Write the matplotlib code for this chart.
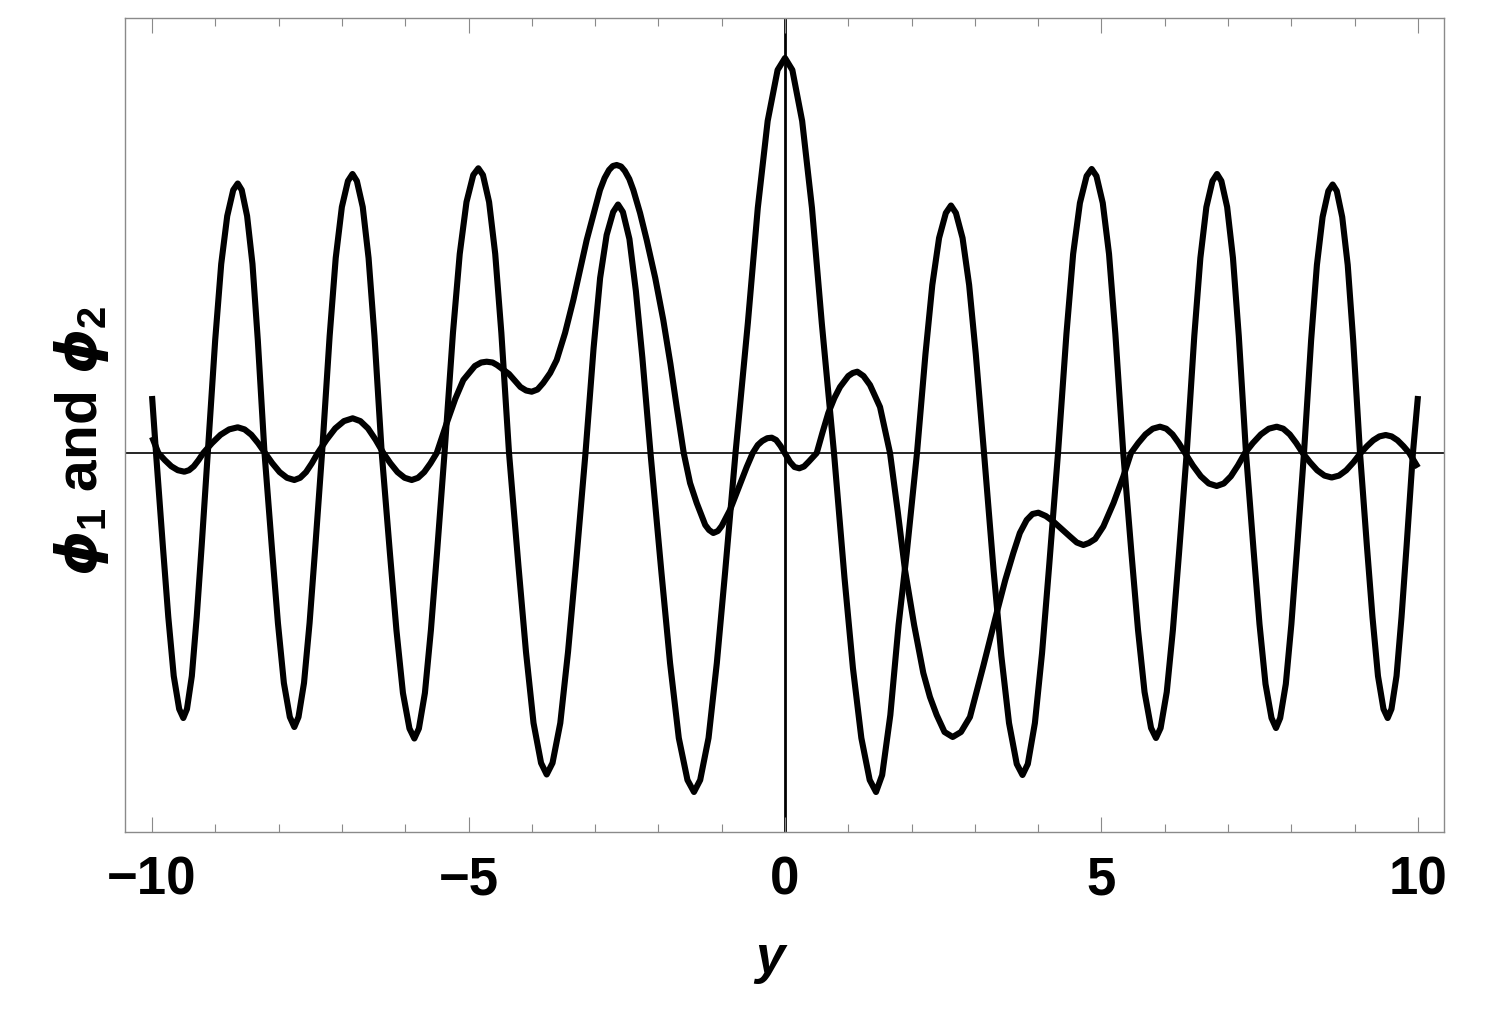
import matplotlib
matplotlib.use("Agg")
import matplotlib.pyplot as plt

# phi_1: the large oscillation, points
phi1_y = [-10.0, -9.937,
          -9.829, -9.743, -9.657, -9.571, -9.506, -9.448, -9.371, -9.294, -9.216, -9.120,
          -9.002, -8.907, -8.812, -8.717, -8.646, -8.583, -8.498, -8.413, -8.329, -8.223,
          -8.105, -8.011, -7.917, -7.823, -7.752, -7.686, -7.599, -7.511, -7.423, -7.314,
          -7.194, -7.098, -7.001, -6.905, -6.833, -6.764, -6.671, -6.579, -6.486, -6.371,
          -6.242, -6.139, -6.036, -5.933, -5.856, -5.784, -5.689, -5.594, -5.498, -5.379,
          -5.246, -5.139, -5.032, -4.925, -4.845, -4.772, -4.675, -4.578, -4.481, -4.360,
          -4.211, -4.092, -3.973, -3.854, -3.765, -3.673, -3.550, -3.428, -3.305, -3.152,
          -3.024, -2.921, -2.818, -2.715, -2.638, -2.561, -2.458, -2.356, -2.253, -2.125,
          -1.953, -1.816, -1.678, -1.541, -1.438, -1.340, -1.208, -1.077, -0.946, -0.782,
          -0.587, -0.430, -0.274, -0.117, 0.0, 0.116, 0.271, 0.426, 0.581, 0.774,
          0.940, 1.073, 1.206, 1.338, 1.438, 1.535, 1.664, 1.794, 1.923, 2.085,
          2.219, 2.327, 2.434, 2.541, 2.622, 2.700, 2.805, 2.909, 3.014, 3.144,
          3.296, 3.418, 3.539, 3.661, 3.752, 3.836, 3.948, 4.061, 4.173, 4.313,
          4.446, 4.552, 4.659, 4.765, 4.845, 4.920, 5.020, 5.119, 5.219, 5.344,
          5.473, 5.577, 5.680, 5.783, 5.861, 5.934, 6.031, 6.128, 6.225, 6.346,
          6.466, 6.562, 6.657, 6.753, 6.825, 6.894, 6.985, 7.077, 7.169, 7.283,
          7.401, 7.496, 7.591, 7.686, 7.757, 7.823, 7.912, 8.000, 8.089, 8.199,
          8.312, 8.403, 8.493, 8.584, 8.652, 8.717, 8.803, 8.890, 8.976, 9.084,
          9.193, 9.281, 9.368, 9.455, 9.521, 9.581, 9.661, 9.740, 9.820, 9.920, 10.0]
phi1 = [0.57, 0.0,
        -0.93, -1.64, -2.23, -2.56, -2.65, -2.56, -2.23, -1.64, -0.93, 0.0,
        1.13, 1.89, 2.37, 2.63, 2.695, 2.63, 2.37, 1.89, 1.13, 0.0,
        -0.96, -1.70, -2.30, -2.64, -2.74, -2.64, -2.30, -1.70, -0.96, 0.0,
        1.17, 1.95, 2.46, 2.72, 2.79, 2.72, 2.46, 1.95, 1.17, 0.0,
        -1.00, -1.77, -2.40, -2.755, -2.855, -2.755, -2.40, -1.77, -1.00, 0.0,
        1.20, 1.99, 2.51, 2.78, 2.847, 2.78, 2.51, 1.99, 1.20, 0.0,
        -1.13, -1.99, -2.70, -3.10, -3.215, -3.10, -2.70, -1.99, -1.13, 0.0,
        1.05, 1.75, 2.18, 2.41, 2.485, 2.41, 2.14, 1.62, 0.95, 0.0,
        -1.19, -2.10, -2.85, -3.27, -3.39, -3.27, -2.85, -2.10, -1.19, 0.0,
        1.30, 2.45, 3.32, 3.83, 3.95, 3.83, 3.32, 2.45, 1.30, 0.0,
        -1.25, -2.15, -2.85, -3.27, -3.39, -3.22, -2.62, -1.72, -1.00, 0.0,
        0.99, 1.68, 2.15, 2.40, 2.475, 2.40, 2.15, 1.68, 0.99, 0.0,
        -1.18, -2.03, -2.70, -3.11, -3.22, -3.11, -2.70, -2.00, -1.13, 0.0,
        1.19, 1.99, 2.50, 2.77, 2.84, 2.77, 2.50, 1.99, 1.19, 0.0,
        -1.00, -1.77, -2.39, -2.75, -2.85, -2.75, -2.39, -1.77, -1.00, 0.0,
        1.17, 1.95, 2.46, 2.72, 2.79, 2.72, 2.46, 1.95, 1.17, 0.0,
        -0.96, -1.71, -2.31, -2.65, -2.75, -2.65, -2.31, -1.71, -0.96, 0.0,
        1.13, 1.88, 2.36, 2.62, 2.685, 2.62, 2.36, 1.88, 1.13, 0.0,
        -0.93, -1.64, -2.23, -2.56, -2.65, -2.56, -2.23, -1.64, -0.93, 0.0, 0.57]

# phi_2: the smaller curve
phi2_y = [-10.0, -9.900,
          -9.798, -9.695, -9.593, -9.490, -9.415, -9.340, -9.265, -9.190,
          -9.054, -8.918, -8.782, -8.646, -8.538, -8.431, -8.323, -8.215,
          -8.099, -7.984, -7.868, -7.752, -7.660, -7.567, -7.475, -7.382,
          -7.244, -7.106, -6.968, -6.830, -6.709, -6.588, -6.467, -6.346,
          -6.234, -6.122, -6.009, -5.897, -5.798, -5.700, -5.601, -5.502,
          -5.344, -5.21, -5.082, -4.90, -4.80, -4.713, -4.62, -4.55, -4.36, -4.18,
          -4.09, -4.002, -3.91, -3.82, -3.71, -3.607, -3.475, -3.344, -3.133, -2.923,
          -2.85, -2.78, -2.72, -2.659, -2.59, -2.53, -2.46, -2.396, -2.29, -2.185,
          -2.05, -1.923, -1.81, -1.711, -1.60, -1.50, -1.395, -1.26, -1.20, -1.133,
          -1.06, -1.0, -0.869, -0.74, -0.605, -0.510, -0.43, -0.36, -0.28, -0.210,
          -0.14, -0.07, 0.0, 0.08, 0.15, 0.226, 0.30, 0.37, 0.501,
          0.59, 0.684, 0.78, 0.869, 1.0, 1.07, 1.142, 1.24, 1.343, 1.501,
          1.659, 1.78, 1.896, 2.04, 2.185, 2.29, 2.396, 2.52, 2.649, 2.78,
          2.922, 3.133, 3.24, 3.344, 3.48, 3.607, 3.71, 3.818, 3.91, 4.002,
          4.12, 4.239, 4.37, 4.502, 4.61, 4.713, 4.80, 4.90, 5.029, 5.19,
          5.345, 5.466,
          5.581, 5.695, 5.810, 5.924, 6.023, 6.122, 6.220, 6.319,
          6.444, 6.570, 6.695, 6.820, 6.932, 7.044, 7.155, 7.267,
          7.392, 7.518, 7.643, 7.768, 7.871, 7.974, 8.076, 8.179,
          8.294, 8.408, 8.523, 8.637, 8.752, 8.866, 8.981, 9.095,
          9.194, 9.293, 9.391, 9.490, 9.583, 9.677, 9.770, 9.863, 10.0]
phi2 = [0.16, 0.0,
        -0.071, -0.133, -0.172, -0.187, -0.172, -0.133, -0.071, 0.0,
        0.098, 0.182, 0.236, 0.257, 0.236, 0.182, 0.098, 0.0,
        -0.103, -0.191, -0.248, -0.27, -0.248, -0.191, -0.103, 0.0,
        0.132, 0.246, 0.319, 0.347, 0.319, 0.246, 0.132, 0.0,
        -0.103, -0.191, -0.248, -0.27, -0.248, -0.191, -0.103, 0.0,
        0.30, 0.54, 0.73, 0.87, 0.905, 0.913, 0.905, 0.88, 0.79, 0.66,
        0.625, 0.613, 0.635, 0.70, 0.80, 0.93, 1.20, 1.53, 2.13, 2.63,
        2.75, 2.83, 2.87, 2.88, 2.865, 2.82, 2.74, 2.63, 2.40, 2.13,
        1.75, 1.33, 0.89, 0.46, 0.0, -0.30, -0.50, -0.72, -0.77, -0.80,
        -0.78, -0.73, -0.57, -0.36, -0.14, 0.0, 0.08, 0.12, 0.148, 0.153,
        0.13, 0.07, -0.005, -0.09, -0.14, -0.153, -0.135, -0.09, 0.0,
        0.20, 0.40, 0.55, 0.66, 0.77, 0.80, 0.813, 0.77, 0.68, 0.46,
        0.0, -0.58, -1.17, -1.72, -2.20, -2.44, -2.62, -2.79, -2.84, -2.79,
        -2.64, -2.13, -1.86, -1.60, -1.27, -1.00, -0.80, -0.67, -0.61, -0.597,
        -0.63, -0.685, -0.76, -0.835, -0.895, -0.92, -0.90, -0.86, -0.735, -0.50,
        -0.235, 0.0,
        0.10, 0.186, 0.243, 0.263, 0.243, 0.186, 0.10, 0.0,
        -0.125, -0.233, -0.305, -0.33, -0.305, -0.233, -0.125, 0.0,
        0.10, 0.186, 0.243, 0.263, 0.243, 0.186, 0.10, 0.0,
        -0.093, -0.173, -0.226, -0.245, -0.226, -0.173, -0.093, 0.0,
        0.068, 0.127, 0.166, 0.18, 0.166, 0.127, 0.068, 0.0, -0.145]

major_ticks = [-10, -5, 0, 5, 10]
major_labels = ["\u221210", "\u22125", "0", "5", "10"]
minor_ticks = list(range(-10, 11))

plt.rcParams["font.family"] = ["Liberation Sans", "DejaVu Sans"]
plt.rcParams["mathtext.fontset"] = "custom"
plt.rcParams["mathtext.it"] = "DejaVu Sans:bold:italic"
plt.rcParams["mathtext.rm"] = "Liberation Sans:bold"
plt.rcParams["mathtext.bf"] = "Liberation Sans:bold"

fig = plt.figure(figsize=(15.07, 10.27), dpi=100)
ax = fig.add_axes([125 / 1507, 1 - 832 / 1027, 1319 / 1507, 814 / 1027])

ax.axhline(0, color="black", lw=1.2, zorder=1)
ax.axvline(0, color="black", lw=2.0, zorder=1)
ax.plot(phi1_y, phi1, color="black", lw=4.4, solid_capstyle="butt",
        solid_joinstyle="round", zorder=3)
ax.plot(phi2_y, phi2, color="black", lw=4.4, solid_capstyle="butt",
        solid_joinstyle="round", zorder=3)

ax.set_xlim(-10.427, 10.411)
ax.set_ylim(-3.79, 4.35)

for sp in ax.spines.values():
    sp.set_color("#8a8a8a")
    sp.set_linewidth(1.0)

ax.set_xticks(major_ticks)
ax.set_xticklabels(major_labels, fontsize=38, fontweight="bold")
ax.set_xticks(minor_ticks, minor=True)
ax.set_yticks([])
ax.tick_params(axis="x", which="both", direction="in", top=True, bottom=True,
               color="#8a8a8a", width=0.8)
ax.tick_params(axis="x", which="major", length=10.5, pad=17)
ax.tick_params(axis="x", which="minor", length=5.8)

ax.set_xlabel("y", fontsize=38, fontweight="bold", fontstyle="italic")
ax.xaxis.set_label_coords((770 - 125) / 1319, -0.125)
ax.set_ylabel(r"$\phi_1$ and $\phi_2$", fontsize=41, fontweight="bold")
ax.yaxis.set_label_coords(-0.0105, 0.48)

fig.savefig("out.png", dpi=100)
